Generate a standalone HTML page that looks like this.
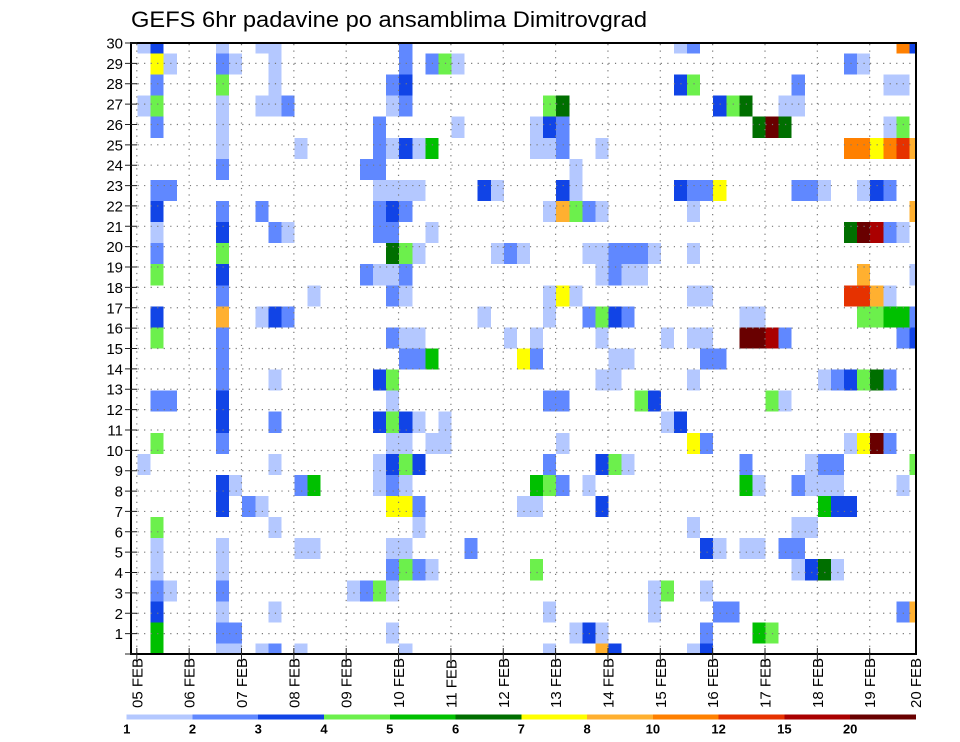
<!DOCTYPE html>
<html><head><meta charset="utf-8"><style>
html,body{margin:0;padding:0;background:#fff;}
svg{display:block;}
.a{fill:#b4c8ff}.b{fill:#6088ff}.c{fill:#1144e6}.d{fill:#6cf04c}.e{fill:#00c000}.f{fill:#006f00}
.g{fill:#ffff00}.h{fill:#ffb030}.k{fill:#ff8000}.m{fill:#e63200}.n{fill:#aa0000}.p{fill:#690000}
text{font-family:"Liberation Sans",sans-serif;fill:#000;}
</style></head><body>
<svg width="960" height="742" viewBox="0 0 960 742" xmlns="http://www.w3.org/2000/svg">
<defs><clipPath id="cp"><rect x="131" y="43" width="785" height="611"/></clipPath></defs>
<text x="131" y="27" font-size="22" textLength="516" lengthAdjust="spacingAndGlyphs">GEFS 6hr padavine po ansamblima Dimitrovgrad</text>
<g clip-path="url(#cp)"><g transform="translate(124.458 32.466) scale(13.0833 21.069)" shape-rendering="crispEdges">
<rect class="a" x="1" y="0" width="1" height="1"/><rect class="c" x="2" y="0" width="1" height="1"/><rect class="a" x="7" y="0" width="1" height="1"/><rect class="a" x="10" y="0" width="2" height="1"/><rect class="b" x="21" y="0" width="1" height="1"/><rect class="a" x="42" y="0" width="1" height="1"/><rect class="b" x="43" y="0" width="1" height="1"/><rect class="k" x="59" y="0" width="1" height="1"/><rect class="c" x="60" y="0" width="1" height="1"/>
<rect class="g" x="2" y="1" width="1" height="1"/><rect class="a" x="3" y="1" width="1" height="1"/><rect class="b" x="7" y="1" width="1" height="1"/><rect class="a" x="8" y="1" width="1" height="1"/><rect class="a" x="11" y="1" width="1" height="1"/><rect class="b" x="21" y="1" width="1" height="1"/><rect class="b" x="23" y="1" width="1" height="1"/><rect class="d" x="24" y="1" width="1" height="1"/><rect class="a" x="25" y="1" width="1" height="1"/><rect class="b" x="55" y="1" width="1" height="1"/><rect class="a" x="56" y="1" width="1" height="1"/>
<rect class="b" x="2" y="2" width="1" height="1"/><rect class="d" x="7" y="2" width="1" height="1"/><rect class="a" x="11" y="2" width="1" height="1"/><rect class="b" x="20" y="2" width="1" height="1"/><rect class="c" x="21" y="2" width="1" height="1"/><rect class="c" x="42" y="2" width="1" height="1"/><rect class="d" x="43" y="2" width="1" height="1"/><rect class="b" x="51" y="2" width="1" height="1"/><rect class="a" x="58" y="2" width="2" height="1"/>
<rect class="a" x="1" y="3" width="1" height="1"/><rect class="d" x="2" y="3" width="1" height="1"/><rect class="a" x="7" y="3" width="1" height="1"/><rect class="a" x="10" y="3" width="2" height="1"/><rect class="b" x="12" y="3" width="1" height="1"/><rect class="a" x="20" y="3" width="1" height="1"/><rect class="b" x="21" y="3" width="1" height="1"/><rect class="d" x="32" y="3" width="1" height="1"/><rect class="f" x="33" y="3" width="1" height="1"/><rect class="c" x="45" y="3" width="1" height="1"/><rect class="d" x="46" y="3" width="1" height="1"/><rect class="f" x="47" y="3" width="1" height="1"/><rect class="a" x="50" y="3" width="2" height="1"/>
<rect class="b" x="2" y="4" width="1" height="1"/><rect class="a" x="7" y="4" width="1" height="1"/><rect class="b" x="19" y="4" width="1" height="1"/><rect class="a" x="25" y="4" width="1" height="1"/><rect class="a" x="31" y="4" width="1" height="1"/><rect class="c" x="32" y="4" width="1" height="1"/><rect class="b" x="33" y="4" width="1" height="1"/><rect class="f" x="48" y="4" width="1" height="1"/><rect class="p" x="49" y="4" width="1" height="1"/><rect class="f" x="50" y="4" width="1" height="1"/><rect class="a" x="58" y="4" width="1" height="1"/><rect class="d" x="59" y="4" width="1" height="1"/>
<rect class="a" x="7" y="5" width="1" height="1"/><rect class="a" x="13" y="5" width="1" height="1"/><rect class="b" x="19" y="5" width="1" height="1"/><rect class="a" x="20" y="5" width="1" height="1"/><rect class="c" x="21" y="5" width="1" height="1"/><rect class="a" x="22" y="5" width="1" height="1"/><rect class="e" x="23" y="5" width="1" height="1"/><rect class="a" x="31" y="5" width="2" height="1"/><rect class="b" x="33" y="5" width="1" height="1"/><rect class="a" x="36" y="5" width="1" height="1"/><rect class="k" x="55" y="5" width="2" height="1"/><rect class="g" x="57" y="5" width="1" height="1"/><rect class="k" x="58" y="5" width="1" height="1"/><rect class="m" x="59" y="5" width="1" height="1"/><rect class="h" x="60" y="5" width="1" height="1"/>
<rect class="b" x="7" y="6" width="1" height="1"/><rect class="b" x="18" y="6" width="2" height="1"/><rect class="a" x="34" y="6" width="1" height="1"/>
<rect class="b" x="2" y="7" width="2" height="1"/><rect class="a" x="19" y="7" width="4" height="1"/><rect class="c" x="27" y="7" width="1" height="1"/><rect class="a" x="28" y="7" width="1" height="1"/><rect class="c" x="33" y="7" width="1" height="1"/><rect class="a" x="34" y="7" width="1" height="1"/><rect class="c" x="42" y="7" width="1" height="1"/><rect class="b" x="43" y="7" width="2" height="1"/><rect class="g" x="45" y="7" width="1" height="1"/><rect class="b" x="51" y="7" width="2" height="1"/><rect class="a" x="53" y="7" width="1" height="1"/><rect class="a" x="56" y="7" width="1" height="1"/><rect class="c" x="57" y="7" width="1" height="1"/><rect class="b" x="58" y="7" width="1" height="1"/>
<rect class="c" x="2" y="8" width="1" height="1"/><rect class="b" x="7" y="8" width="1" height="1"/><rect class="b" x="10" y="8" width="1" height="1"/><rect class="b" x="19" y="8" width="1" height="1"/><rect class="c" x="20" y="8" width="1" height="1"/><rect class="b" x="21" y="8" width="1" height="1"/><rect class="a" x="32" y="8" width="1" height="1"/><rect class="h" x="33" y="8" width="1" height="1"/><rect class="d" x="34" y="8" width="1" height="1"/><rect class="b" x="35" y="8" width="1" height="1"/><rect class="a" x="36" y="8" width="1" height="1"/><rect class="a" x="43" y="8" width="1" height="1"/><rect class="h" x="60" y="8" width="1" height="1"/>
<rect class="a" x="2" y="9" width="1" height="1"/><rect class="c" x="7" y="9" width="1" height="1"/><rect class="b" x="11" y="9" width="1" height="1"/><rect class="a" x="12" y="9" width="1" height="1"/><rect class="b" x="19" y="9" width="2" height="1"/><rect class="a" x="23" y="9" width="1" height="1"/><rect class="f" x="55" y="9" width="1" height="1"/><rect class="p" x="56" y="9" width="1" height="1"/><rect class="n" x="57" y="9" width="1" height="1"/><rect class="b" x="58" y="9" width="1" height="1"/><rect class="a" x="59" y="9" width="1" height="1"/>
<rect class="b" x="2" y="10" width="1" height="1"/><rect class="d" x="7" y="10" width="1" height="1"/><rect class="f" x="20" y="10" width="1" height="1"/><rect class="d" x="21" y="10" width="1" height="1"/><rect class="a" x="22" y="10" width="1" height="1"/><rect class="a" x="28" y="10" width="1" height="1"/><rect class="b" x="29" y="10" width="1" height="1"/><rect class="a" x="30" y="10" width="1" height="1"/><rect class="a" x="35" y="10" width="2" height="1"/><rect class="b" x="37" y="10" width="3" height="1"/><rect class="a" x="40" y="10" width="1" height="1"/><rect class="a" x="43" y="10" width="1" height="1"/>
<rect class="d" x="2" y="11" width="1" height="1"/><rect class="c" x="7" y="11" width="1" height="1"/><rect class="b" x="18" y="11" width="1" height="1"/><rect class="a" x="19" y="11" width="2" height="1"/><rect class="b" x="21" y="11" width="1" height="1"/><rect class="a" x="36" y="11" width="1" height="1"/><rect class="b" x="37" y="11" width="1" height="1"/><rect class="a" x="38" y="11" width="2" height="1"/><rect class="h" x="56" y="11" width="1" height="1"/><rect class="a" x="60" y="11" width="1" height="1"/>
<rect class="b" x="7" y="12" width="1" height="1"/><rect class="a" x="14" y="12" width="1" height="1"/><rect class="b" x="20" y="12" width="1" height="1"/><rect class="a" x="21" y="12" width="1" height="1"/><rect class="a" x="32" y="12" width="1" height="1"/><rect class="g" x="33" y="12" width="1" height="1"/><rect class="a" x="34" y="12" width="1" height="1"/><rect class="a" x="43" y="12" width="2" height="1"/><rect class="m" x="55" y="12" width="2" height="1"/><rect class="h" x="57" y="12" width="1" height="1"/><rect class="a" x="58" y="12" width="1" height="1"/>
<rect class="c" x="2" y="13" width="1" height="1"/><rect class="h" x="7" y="13" width="1" height="1"/><rect class="a" x="10" y="13" width="1" height="1"/><rect class="c" x="11" y="13" width="1" height="1"/><rect class="b" x="12" y="13" width="1" height="1"/><rect class="a" x="27" y="13" width="1" height="1"/><rect class="a" x="32" y="13" width="1" height="1"/><rect class="b" x="35" y="13" width="1" height="1"/><rect class="d" x="36" y="13" width="1" height="1"/><rect class="c" x="37" y="13" width="1" height="1"/><rect class="b" x="38" y="13" width="1" height="1"/><rect class="a" x="47" y="13" width="2" height="1"/><rect class="d" x="56" y="13" width="2" height="1"/><rect class="e" x="58" y="13" width="2" height="1"/><rect class="b" x="60" y="13" width="1" height="1"/>
<rect class="d" x="2" y="14" width="1" height="1"/><rect class="b" x="7" y="14" width="1" height="1"/><rect class="b" x="20" y="14" width="1" height="1"/><rect class="a" x="21" y="14" width="2" height="1"/><rect class="a" x="29" y="14" width="1" height="1"/><rect class="a" x="31" y="14" width="1" height="1"/><rect class="a" x="36" y="14" width="1" height="1"/><rect class="a" x="41" y="14" width="1" height="1"/><rect class="a" x="43" y="14" width="2" height="1"/><rect class="p" x="47" y="14" width="2" height="1"/><rect class="n" x="49" y="14" width="1" height="1"/><rect class="b" x="50" y="14" width="1" height="1"/><rect class="b" x="59" y="14" width="1" height="1"/><rect class="c" x="60" y="14" width="1" height="1"/>
<rect class="b" x="7" y="15" width="1" height="1"/><rect class="b" x="21" y="15" width="2" height="1"/><rect class="e" x="23" y="15" width="1" height="1"/><rect class="g" x="30" y="15" width="1" height="1"/><rect class="b" x="31" y="15" width="1" height="1"/><rect class="a" x="37" y="15" width="2" height="1"/><rect class="b" x="44" y="15" width="2" height="1"/>
<rect class="b" x="7" y="16" width="1" height="1"/><rect class="a" x="11" y="16" width="1" height="1"/><rect class="c" x="19" y="16" width="1" height="1"/><rect class="d" x="20" y="16" width="1" height="1"/><rect class="a" x="36" y="16" width="2" height="1"/><rect class="a" x="43" y="16" width="1" height="1"/><rect class="a" x="53" y="16" width="1" height="1"/><rect class="b" x="54" y="16" width="1" height="1"/><rect class="c" x="55" y="16" width="1" height="1"/><rect class="d" x="56" y="16" width="1" height="1"/><rect class="f" x="57" y="16" width="1" height="1"/><rect class="b" x="58" y="16" width="1" height="1"/>
<rect class="b" x="2" y="17" width="2" height="1"/><rect class="c" x="7" y="17" width="1" height="1"/><rect class="a" x="20" y="17" width="1" height="1"/><rect class="b" x="32" y="17" width="2" height="1"/><rect class="d" x="39" y="17" width="1" height="1"/><rect class="c" x="40" y="17" width="1" height="1"/><rect class="d" x="49" y="17" width="1" height="1"/><rect class="a" x="50" y="17" width="1" height="1"/>
<rect class="c" x="7" y="18" width="1" height="1"/><rect class="b" x="11" y="18" width="1" height="1"/><rect class="c" x="19" y="18" width="1" height="1"/><rect class="d" x="20" y="18" width="1" height="1"/><rect class="c" x="21" y="18" width="1" height="1"/><rect class="a" x="22" y="18" width="1" height="1"/><rect class="a" x="24" y="18" width="1" height="1"/><rect class="a" x="41" y="18" width="1" height="1"/><rect class="c" x="42" y="18" width="1" height="1"/>
<rect class="d" x="2" y="19" width="1" height="1"/><rect class="b" x="7" y="19" width="1" height="1"/><rect class="a" x="20" y="19" width="2" height="1"/><rect class="a" x="23" y="19" width="2" height="1"/><rect class="a" x="33" y="19" width="1" height="1"/><rect class="g" x="43" y="19" width="1" height="1"/><rect class="b" x="44" y="19" width="1" height="1"/><rect class="a" x="55" y="19" width="1" height="1"/><rect class="g" x="56" y="19" width="1" height="1"/><rect class="p" x="57" y="19" width="1" height="1"/><rect class="b" x="58" y="19" width="1" height="1"/>
<rect class="a" x="1" y="20" width="1" height="1"/><rect class="a" x="11" y="20" width="1" height="1"/><rect class="a" x="19" y="20" width="1" height="1"/><rect class="c" x="20" y="20" width="1" height="1"/><rect class="d" x="21" y="20" width="1" height="1"/><rect class="c" x="22" y="20" width="1" height="1"/><rect class="b" x="32" y="20" width="1" height="1"/><rect class="c" x="36" y="20" width="1" height="1"/><rect class="d" x="37" y="20" width="1" height="1"/><rect class="a" x="38" y="20" width="1" height="1"/><rect class="b" x="47" y="20" width="1" height="1"/><rect class="a" x="52" y="20" width="1" height="1"/><rect class="b" x="53" y="20" width="2" height="1"/><rect class="d" x="60" y="20" width="1" height="1"/>
<rect class="c" x="7" y="21" width="1" height="1"/><rect class="a" x="8" y="21" width="1" height="1"/><rect class="b" x="13" y="21" width="1" height="1"/><rect class="e" x="14" y="21" width="1" height="1"/><rect class="a" x="19" y="21" width="1" height="1"/><rect class="b" x="20" y="21" width="1" height="1"/><rect class="a" x="21" y="21" width="1" height="1"/><rect class="e" x="31" y="21" width="1" height="1"/><rect class="d" x="32" y="21" width="1" height="1"/><rect class="b" x="33" y="21" width="1" height="1"/><rect class="a" x="35" y="21" width="1" height="1"/><rect class="e" x="47" y="21" width="1" height="1"/><rect class="a" x="48" y="21" width="1" height="1"/><rect class="b" x="51" y="21" width="1" height="1"/><rect class="a" x="52" y="21" width="3" height="1"/><rect class="a" x="59" y="21" width="1" height="1"/>
<rect class="c" x="7" y="22" width="1" height="1"/><rect class="b" x="9" y="22" width="1" height="1"/><rect class="a" x="10" y="22" width="1" height="1"/><rect class="g" x="20" y="22" width="2" height="1"/><rect class="b" x="22" y="22" width="1" height="1"/><rect class="a" x="30" y="22" width="2" height="1"/><rect class="c" x="36" y="22" width="1" height="1"/><rect class="e" x="53" y="22" width="1" height="1"/><rect class="c" x="54" y="22" width="2" height="1"/>
<rect class="d" x="2" y="23" width="1" height="1"/><rect class="a" x="11" y="23" width="1" height="1"/><rect class="a" x="22" y="23" width="1" height="1"/><rect class="a" x="43" y="23" width="1" height="1"/><rect class="a" x="51" y="23" width="2" height="1"/>
<rect class="a" x="2" y="24" width="1" height="1"/><rect class="a" x="7" y="24" width="1" height="1"/><rect class="a" x="13" y="24" width="2" height="1"/><rect class="a" x="20" y="24" width="2" height="1"/><rect class="b" x="26" y="24" width="1" height="1"/><rect class="c" x="44" y="24" width="1" height="1"/><rect class="a" x="45" y="24" width="1" height="1"/><rect class="a" x="47" y="24" width="2" height="1"/><rect class="b" x="50" y="24" width="2" height="1"/>
<rect class="a" x="2" y="25" width="1" height="1"/><rect class="a" x="7" y="25" width="1" height="1"/><rect class="b" x="20" y="25" width="1" height="1"/><rect class="d" x="21" y="25" width="1" height="1"/><rect class="b" x="22" y="25" width="1" height="1"/><rect class="a" x="23" y="25" width="1" height="1"/><rect class="d" x="31" y="25" width="1" height="1"/><rect class="a" x="51" y="25" width="1" height="1"/><rect class="c" x="52" y="25" width="1" height="1"/><rect class="f" x="53" y="25" width="1" height="1"/><rect class="a" x="54" y="25" width="1" height="1"/>
<rect class="b" x="2" y="26" width="1" height="1"/><rect class="a" x="3" y="26" width="1" height="1"/><rect class="b" x="7" y="26" width="1" height="1"/><rect class="a" x="17" y="26" width="1" height="1"/><rect class="b" x="18" y="26" width="1" height="1"/><rect class="d" x="19" y="26" width="1" height="1"/><rect class="a" x="20" y="26" width="1" height="1"/><rect class="a" x="40" y="26" width="1" height="1"/><rect class="d" x="41" y="26" width="1" height="1"/><rect class="a" x="44" y="26" width="1" height="1"/>
<rect class="c" x="2" y="27" width="1" height="1"/><rect class="a" x="7" y="27" width="1" height="1"/><rect class="a" x="11" y="27" width="1" height="1"/><rect class="a" x="32" y="27" width="1" height="1"/><rect class="a" x="40" y="27" width="1" height="1"/><rect class="b" x="45" y="27" width="2" height="1"/><rect class="b" x="59" y="27" width="1" height="1"/><rect class="h" x="60" y="27" width="1" height="1"/>
<rect class="e" x="2" y="28" width="1" height="1"/><rect class="b" x="7" y="28" width="2" height="1"/><rect class="a" x="20" y="28" width="1" height="1"/><rect class="a" x="34" y="28" width="1" height="1"/><rect class="c" x="35" y="28" width="1" height="1"/><rect class="a" x="36" y="28" width="1" height="1"/><rect class="b" x="44" y="28" width="1" height="1"/><rect class="e" x="48" y="28" width="1" height="1"/><rect class="d" x="49" y="28" width="1" height="1"/>
<rect class="e" x="2" y="29" width="1" height="1"/><rect class="a" x="7" y="29" width="2" height="1"/><rect class="a" x="10" y="29" width="1" height="1"/><rect class="b" x="11" y="29" width="1" height="1"/><rect class="a" x="13" y="29" width="1" height="1"/><rect class="a" x="21" y="29" width="1" height="1"/><rect class="a" x="32" y="29" width="1" height="1"/><rect class="h" x="36" y="29" width="1" height="1"/><rect class="c" x="37" y="29" width="1" height="1"/><rect class="a" x="43" y="29" width="1" height="1"/><rect class="c" x="44" y="29" width="1" height="1"/>
</g></g>
<g stroke="#7a7a7a" stroke-width="1.2" stroke-dasharray="1.2 5.34" fill="none">
<path d="M131 633.63H916M131 613.27H916M131 592.9H916M131 572.53H916M131 552.17H916M131 531.8H916M131 511.43H916M131 491.07H916M131 470.7H916M131 450.33H916M131 429.97H916M131 409.6H916M131 389.23H916M131 368.87H916M131 348.5H916M131 328.13H916M131 307.77H916M131 287.4H916M131 267.03H916M131 246.67H916M131 226.3H916M131 205.93H916M131 185.57H916M131 165.2H916M131 144.83H916M131 124.47H916M131 104.1H916M131 83.73H916M131 63.37H916"/>
<path d="M136.8 44V654M189.15 44V654M241.5 44V654M293.85 44V654M346.2 44V654M398.55 44V654M450.9 44V654M503.25 44V654M555.6 44V654M607.95 44V654M660.3 44V654M712.65 44V654M765 44V654M817.35 44V654M869.7 44V654"/>
</g>
<rect x="131" y="43" width="785" height="611" fill="none" stroke="#000" stroke-width="2"/>
<g stroke="#222" stroke-width="1">
<path d="M125 654H137M125 633.63H137M125 613.27H137M125 592.9H137M125 572.53H137M125 552.17H137M125 531.8H137M125 511.43H137M125 491.07H137M125 470.7H137M125 450.33H137M125 429.97H137M125 409.6H137M125 389.23H137M125 368.87H137M125 348.5H137M125 328.13H137M125 307.77H137M125 287.4H137M125 267.03H137M125 246.67H137M125 226.3H137M125 205.93H137M125 185.57H137M125 165.2H137M125 144.83H137M125 124.47H137M125 104.1H137M125 83.73H137M125 63.37H137M125 43H137"/>
<path d="M136.8 648V661M189.15 648V661M241.5 648V661M293.85 648V661M346.2 648V661M398.55 648V661M450.9 648V661M503.25 648V661M555.6 648V661M607.95 648V661M660.3 648V661M712.65 648V661M765 648V661M817.35 648V661M869.7 648V661"/>
</g>
<g font-size="15" text-anchor="end">
<text x="123" y="639.1">1</text><text x="123" y="618.8">2</text><text x="123" y="598.4">3</text><text x="123" y="578">4</text><text x="123" y="557.7">5</text><text x="123" y="537.3">6</text><text x="123" y="516.9">7</text><text x="123" y="496.6">8</text><text x="123" y="476.2">9</text><text x="123" y="455.8">10</text><text x="123" y="435.5">11</text><text x="123" y="415.1">12</text><text x="123" y="394.7">13</text><text x="123" y="374.4">14</text><text x="123" y="354">15</text><text x="123" y="333.6">16</text><text x="123" y="313.3">17</text><text x="123" y="292.9">18</text><text x="123" y="272.5">19</text><text x="123" y="252.2">20</text><text x="123" y="231.8">21</text><text x="123" y="211.4">22</text><text x="123" y="191.1">23</text><text x="123" y="170.7">24</text><text x="123" y="150.3">25</text><text x="123" y="130">26</text><text x="123" y="109.6">27</text><text x="123" y="89.2">28</text><text x="123" y="68.9">29</text><text x="123" y="48.5">30</text>
</g>
<g font-size="15">
<text transform="translate(142.3 708) rotate(-90)">05 FEB</text>
<text transform="translate(194.65 708) rotate(-90)">06 FEB</text>
<text transform="translate(247 708) rotate(-90)">07 FEB</text>
<text transform="translate(299.35 708) rotate(-90)">08 FEB</text>
<text transform="translate(351.7 708) rotate(-90)">09 FEB</text>
<text transform="translate(404.05 708) rotate(-90)">10 FEB</text>
<text transform="translate(456.4 708) rotate(-90)">11 FEB</text>
<text transform="translate(508.75 708) rotate(-90)">12 FEB</text>
<text transform="translate(561.1 708) rotate(-90)">13 FEB</text>
<text transform="translate(613.45 708) rotate(-90)">14 FEB</text>
<text transform="translate(665.8 708) rotate(-90)">15 FEB</text>
<text transform="translate(718.15 708) rotate(-90)">16 FEB</text>
<text transform="translate(770.5 708) rotate(-90)">17 FEB</text>
<text transform="translate(822.85 708) rotate(-90)">18 FEB</text>
<text transform="translate(875.2 708) rotate(-90)">19 FEB</text>
<text transform="translate(921 708) rotate(-90)">20 FEB</text>
</g>
<g shape-rendering="crispEdges">
<rect class="a" x="126.7" y="714.3" width="65.9" height="5.2"/>
<rect class="b" x="192.47" y="714.3" width="65.9" height="5.2"/>
<rect class="c" x="258.24" y="714.3" width="65.9" height="5.2"/>
<rect class="d" x="324.01" y="714.3" width="65.9" height="5.2"/>
<rect class="e" x="389.78" y="714.3" width="65.9" height="5.2"/>
<rect class="f" x="455.55" y="714.3" width="65.9" height="5.2"/>
<rect class="g" x="521.32" y="714.3" width="65.9" height="5.2"/>
<rect class="h" x="587.09" y="714.3" width="65.9" height="5.2"/>
<rect class="k" x="652.86" y="714.3" width="65.9" height="5.2"/>
<rect class="m" x="718.63" y="714.3" width="65.9" height="5.2"/>
<rect class="n" x="784.4" y="714.3" width="65.9" height="5.2"/>
<rect class="p" x="850.17" y="714.3" width="65.8" height="5.2"/>
</g>
<g font-size="13" font-weight="bold" text-anchor="middle">
<text x="126.7" y="733.5">1</text><text x="192.5" y="733.5">2</text><text x="258.2" y="733.5">3</text><text x="324" y="733.5">4</text><text x="389.8" y="733.5">5</text><text x="455.6" y="733.5">6</text><text x="521.3" y="733.5">7</text><text x="587.1" y="733.5">8</text><text x="652.9" y="733.5">10</text><text x="718.6" y="733.5">12</text><text x="784.4" y="733.5">15</text><text x="850.2" y="733.5">20</text>
</g>
</svg>
</body></html>
